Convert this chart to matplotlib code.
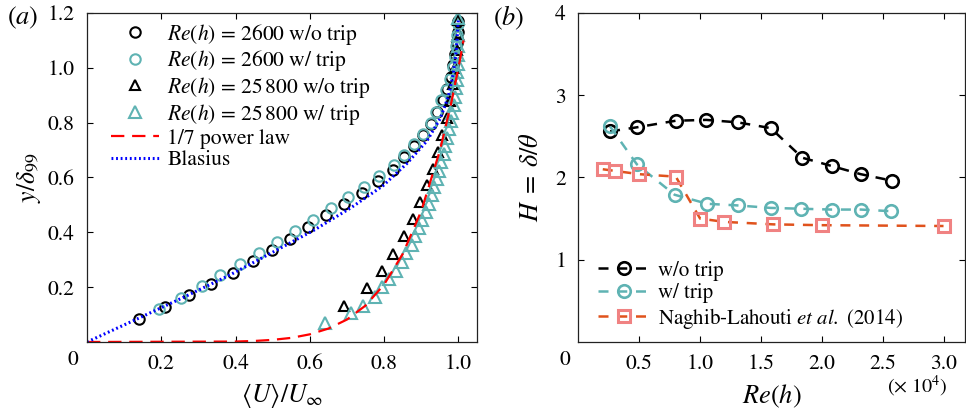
import numpy as np
import matplotlib
matplotlib.use("Agg")
import matplotlib.pyplot as plt

plt.rcParams['font.family'] = 'STIXGeneral'
plt.rcParams['mathtext.fontset'] = 'stix'
plt.rcParams['xtick.direction'] = 'in'
plt.rcParams['ytick.direction'] = 'in'

TEAL = '#5fb3b3'
PINK = '#f08282'
ORANGE = '#e0521c'

# ---- (a) mean velocity profiles ----
# Re(h) = 2600, no trip
u_2600_notrip = [0.140, 0.211, 0.274, 0.335, 0.394, 0.447, 0.498, 0.547, 0.596, 0.644,
                 0.693, 0.741, 0.783, 0.823, 0.853, 0.880, 0.904, 0.926, 0.943, 0.958,
                 0.970, 0.980, 0.986, 0.991, 0.995, 0.998, 1.000]
y_2600_notrip = [0.085, 0.128, 0.170, 0.210, 0.252, 0.294, 0.337, 0.377, 0.419, 0.462,
                 0.505, 0.545, 0.586, 0.629, 0.675, 0.714, 0.756, 0.796, 0.839, 0.881,
                 0.924, 0.967, 1.010, 1.050, 1.090, 1.130, 1.170]
# Re(h) = 2600, tripped
u_2600_trip = [0.193, 0.252, 0.309, 0.359, 0.411, 0.463, 0.512, 0.559, 0.608, 0.656,
               0.702, 0.747, 0.787, 0.826, 0.853, 0.880, 0.904, 0.925, 0.940, 0.954,
               0.967, 0.976, 0.985, 0.990, 0.994, 0.997, 0.999]
y_2600_trip = [0.122, 0.162, 0.204, 0.244, 0.284, 0.323, 0.363, 0.406, 0.445, 0.487,
               0.527, 0.566, 0.606, 0.645, 0.681, 0.721, 0.760, 0.799, 0.839, 0.881,
               0.920, 0.960, 1.003, 1.040, 1.080, 1.120, 1.160]
# Re(h) = 25800, no trip
u_25800_notrip = [0.693, 0.755, 0.795, 0.823, 0.853, 0.877, 0.897, 0.916, 0.931, 0.945,
                  0.957, 0.968, 0.977, 0.985, 0.990, 0.995, 0.998, 1.000]
y_25800_notrip = [0.132, 0.197, 0.258, 0.321, 0.386, 0.448, 0.511, 0.571, 0.632, 0.693,
                  0.755, 0.817, 0.879, 0.940, 1.000, 1.065, 1.125, 1.175]
# Re(h) = 25800, tripped
u_25800_trip = [0.640, 0.712, 0.742, 0.774, 0.795, 0.812, 0.833, 0.847, 0.860, 0.874,
                0.884, 0.893, 0.903, 0.912, 0.920, 0.928, 0.935, 0.942, 0.948, 0.954,
                0.960, 0.965, 0.970, 0.975, 0.979, 0.983, 0.987, 0.990, 0.993, 0.995,
                0.997, 0.998, 0.999, 1.000, 1.000, 1.000]
y_25800_trip = [0.068, 0.104, 0.130, 0.163, 0.199, 0.229, 0.258, 0.291, 0.324, 0.353,
                0.385, 0.415, 0.445, 0.475, 0.505, 0.535, 0.565, 0.595, 0.625, 0.655,
                0.685, 0.715, 0.745, 0.775, 0.805, 0.835, 0.865, 0.895, 0.925, 0.955,
                0.985, 1.015, 1.045, 1.080, 1.120, 1.180]
# 1/7 power law reference curve
u_power = [0.0, 0.40, 0.45, 0.50, 0.55, 0.60, 0.65, 0.70, 0.75, 0.80, 0.85, 0.90,
           0.95, 0.98, 1.00, 1.0137]
y_power = [0.0, 0.0016, 0.0037, 0.0078, 0.015, 0.028, 0.049, 0.082, 0.133, 0.210,
           0.321, 0.478, 0.698, 0.868, 1.000, 1.100]
# Blasius profile
u_blasius = [0.0, 0.130, 0.260, 0.384, 0.498, 0.610, 0.710, 0.797, 0.862, 0.915,
             0.951, 0.973, 0.986, 0.994, 0.998, 1.000]
y_blasius = [0.0, 0.081, 0.163, 0.244, 0.326, 0.407, 0.489, 0.570, 0.652, 0.733,
             0.815, 0.896, 0.978, 1.059, 1.140, 1.180]

# ---- (b) shape factor ----
re_notrip = [2600, 4800, 8000, 10500, 13100, 15800, 18400, 20800, 23200, 25800]
H_notrip = [2.56, 2.61, 2.69, 2.70, 2.67, 2.60, 2.24, 2.14, 2.04, 1.96]
re_trip = [2600, 4800, 7900, 10600, 13100, 15800, 18300, 20800, 23200, 25700]
H_trip = [2.62, 2.16, 1.79, 1.68, 1.66, 1.63, 1.62, 1.61, 1.61, 1.59]
re_naghib = [2000, 3000, 5000, 8000, 10000, 12000, 16000, 20000, 30000]
H_naghib = [2.10, 2.08, 2.04, 2.01, 1.50, 1.46, 1.43, 1.42, 1.41]

fig = plt.figure(figsize=(9.66, 4.08), dpi=100)
ax1 = fig.add_axes([0.0901, 0.1618, 0.4037, 0.8064])
ax2 = fig.add_axes([0.5988, 0.1618, 0.4006, 0.8064])

ms = 7.5
mew = 1.5
ax1.plot(u_2600_notrip, y_2600_notrip, 'o', ms=ms, mfc='none', mec='k', mew=mew,
         label=r'$Re(h)$ = 2600 w/o trip')
ax1.plot(u_2600_trip, y_2600_trip, 'o', ms=ms, mfc='none', mec=TEAL, mew=mew,
         label=r'$Re(h)$ = 2600 w/ trip')
ax1.plot(u_25800_notrip, y_25800_notrip, '^', ms=ms, mfc='none', mec='k', mew=mew,
         label=r'$Re(h)$ = 25$\,$800 w/o trip')
ax1.plot(u_25800_trip, y_25800_trip, '^', ms=ms + 0.5, mfc='none', mec=TEAL, mew=mew,
         label=r'$Re(h)$ = 25$\,$800 w/ trip')
ax1.plot(u_power, y_power, color='red', lw=1.6, dashes=(6, 3.5), label='1/7 power law')
ax1.plot(u_blasius, y_blasius, color='blue', lw=2.2, linestyle=(0, (0.6, 0.9)),
         label='Blasius')

ax1.set_xlim(0, 1.05)
ax1.set_ylim(0, 1.2)
ax1.set_xticks([0.2, 0.4, 0.6, 0.8, 1.0])
ax1.set_xticklabels(['0.2', '0.4', '0.6', '0.8', '1.0'])
ax1.set_yticks([0.2, 0.4, 0.6, 0.8, 1.0, 1.2])
ax1.set_yticklabels(['0.2', '0.4', '0.6', '0.8', '1.0', '1.2'])
ax1.text(-0.036, -0.056, '0', transform=ax1.transAxes, ha='center', va='center', fontsize=15.5)
ax1.set_xlabel(r'$\langle U\rangle/U_\infty$', fontsize=18.5, labelpad=4.5)
ax1.set_ylabel(r'$y/\delta_{99}$', fontsize=18.5, labelpad=3)
ax1.legend(loc='upper left', frameon=False, fontsize=15.5, handlelength=2.2,
           handletextpad=0.4, labelspacing=0.08, borderaxespad=0.0,
           bbox_to_anchor=(0.04, 1.0))
ax1.text(-0.205, 0.985, '($a$)', transform=ax1.transAxes, ha='left', va='center', fontsize=19)

lw = 1.8
ax2.plot(np.array(re_notrip) / 1e4, H_notrip, color='k', lw=lw, dashes=(4, 3.5),
         marker='o', ms=9, mfc='none', mec='k', mew=1.9, label='w/o trip')
ax2.plot(np.array(re_trip) / 1e4, H_trip, color=TEAL, lw=lw, dashes=(4, 3.5),
         marker='o', ms=9, mfc='none', mec=TEAL, mew=1.9, label='w/ trip')
ax2.plot(np.array(re_naghib) / 1e4, H_naghib, color=ORANGE, lw=lw, dashes=(4, 3.5),
         marker='s', ms=8.5, mfc='none', mec=PINK, mew=2.2,
         label=r'Naghib-Lahouti $et\ al.$ (2014)')

ax2.set_xlim(0, 3.18)
ax2.set_ylim(0, 4)
ax2.set_xticks([0.5, 1.0, 1.5, 2.0, 2.5, 3.0])
ax2.set_xticklabels(['0.5', '1.0', '1.5', '2.0', '2.5', '3.0'])
ax2.set_yticks([1, 2, 3, 4])
ax2.text(-0.036, -0.056, '0', transform=ax2.transAxes, ha='center', va='center', fontsize=15.5)
ax2.text(0.875, -0.135, r'$(\times\ 10^4)$', transform=ax2.transAxes, ha='center',
         va='center', fontsize=14.5)
ax2.set_xlabel(r'$Re(h)$', fontsize=19, labelpad=6)
ax2.set_ylabel(r'$H\;=\;\delta/\theta$', fontsize=19, labelpad=8)
ax2.legend(loc='lower left', frameon=False, fontsize=15, handlelength=2.5,
           handletextpad=0.4, labelspacing=0.12, borderaxespad=0.15,
           bbox_to_anchor=(0.02, 0.0))
ax2.text(-0.22, 0.985, '($b$)', transform=ax2.transAxes, ha='left', va='center', fontsize=19)

for ax in (ax1, ax2):
    ax.tick_params(top=True, right=True, length=4, width=0.8, labelsize=15.5, pad=9)
    for s in ax.spines.values():
        s.set_linewidth(0.9)
        s.set_color('#222222')

fig.savefig('out.png', dpi=100)
